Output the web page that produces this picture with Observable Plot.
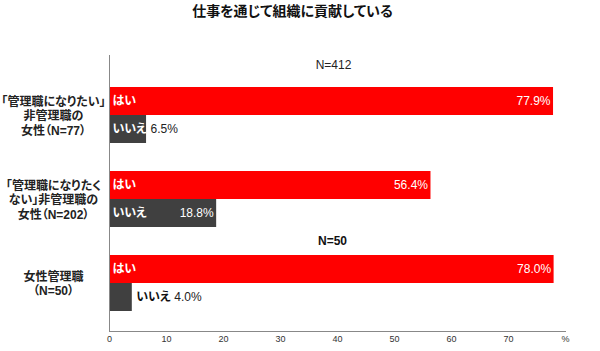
<!DOCTYPE html>
<html><head><meta charset="utf-8">
<script src="https://cdn.jsdelivr.net/npm/d3@7"></script>
<script src="https://cdn.jsdelivr.net/npm/@observablehq/plot@0.6"></script>
<style>
body{margin:0;background:#fff;}
#title{width:585px;height:30px;line-height:29px;text-align:center;font:bold 14px "Noto Sans CJK JP",sans-serif;color:#111;font-feature-settings:"palt";}
#chart svg{font-feature-settings:"palt";}
#chart g[aria-label="x-axis tick label"] text{font-size:9px;}
</style>
</head><body>
<div id="title">仕事を通じて組織に貢献している</div>
<div id="chart"></div>
<script>
const groups = ["「管理職になりたい」\n非管理職の\n女性（N=77）", "「管理職になりたく\nない」非管理職の\n女性（N=202）", "女性管理職\n（N=50）"];
const answers = ["はい", "いいえ"];
const yesValues = [77.9, 56.4, 78.0];
const noValues = [6.5, 18.8, 4.0];
const headers = ["N=412", "N=50"];
const xTicks = [0, 10, 20, 30, 40, 50, 60, 70, 80];

const key = (g, a) => g + "|" + a;
const rows = [];
groups.forEach((g, i) => {
  rows.push({group: g, answer: answers[0], value: yesValues[i], key: key(g, answers[0])});
  rows.push({group: g, answer: answers[1], value: noValues[i], key: key(g, answers[1])});
});
const yDomain = ["hdr1", key(groups[0], answers[0]), key(groups[0], answers[1]), "gap",
  key(groups[1], answers[0]), key(groups[1], answers[1]), "hdr2",
  key(groups[2], answers[0]), key(groups[2], answers[1])];

const fmt = v => v.toFixed(1) + "%";
const catInside = rows.filter(r => r.answer === "はい" || r.value >= 6);
const catOutside = rows.filter(r => !(r.answer === "はい" || r.value >= 6));
const valInside = rows.filter(r => r.value >= 15);
const valOutsideNear = rows.filter(r => r.value < 15 && r.value >= 6);
const valOutsideFar = rows.filter(r => r.value < 6);

const chart = Plot.plot({
  width: 600,
  height: 321,
  marginLeft: 109,
  marginRight: 35,
  marginTop: 25,
  marginBottom: 20,
  style: {fontFamily: '"Liberation Sans", "Noto Sans CJK JP", sans-serif', fontSize: "12px", color: "#222"},
  x: {domain: [0, 80], label: null},
  y: {type: "band", domain: yDomain, paddingInner: 0, paddingOuter: 0.34, align: 0.15, axis: null, label: null},
  marks: [
    Plot.barX(rows, {x: "value", y: "key", insetTop: 0, insetBottom: 0, fill: d => d.answer === "はい" ? "#ff0000" : "#404040"}),
    Plot.ruleX([0], {stroke: "#888"}),
    Plot.frame({anchor: "bottom", stroke: "#888"}),
    Plot.axisX({ticks: xTicks, tickFormat: d => d === 80 ? "%" : d, tickSize: 0, tickPadding: 4, fill: "#333", label: null}),
    Plot.text(catInside, {x: 0, y: "key", text: "answer", textAnchor: "start", dx: 3, fill: "white", fontWeight: "bold", fontSize: 12}),
    Plot.text(catOutside, {x: "value", y: "key", text: "answer", textAnchor: "start", dx: 4, fill: "#111", fontWeight: "bold", fontSize: 12}),
    Plot.text(valInside, {x: "value", y: "key", text: d => fmt(d.value), textAnchor: "end", dx: -3, fill: "white", fontSize: 12}),
    Plot.text(valOutsideNear, {x: "value", y: "key", text: d => fmt(d.value), textAnchor: "start", dx: 4, fill: "#222", fontSize: 12}),
    Plot.text(valOutsideFar, {x: "value", y: "key", text: d => fmt(d.value), textAnchor: "start", dx: 42, fill: "#222", fontSize: 12}),
    Plot.text(groups, {y: g => key(g, answers[1]), text: d => d, frameAnchor: "left", dx: -56, dy: -14, textAnchor: "middle", lineHeight: 1.2, fontWeight: "bold", fontSize: 12, fill: "#222"}),
    Plot.text([headers[0]], {y: () => "hdr1", text: d => d, frameAnchor: "middle", dx: -4, dy: -8, fontSize: 12, fill: "#222"}),
    Plot.text([headers[1]], {y: () => "hdr2", text: d => d, frameAnchor: "middle", dx: -5, fontWeight: "bold", fontSize: 12, fill: "#111"})
  ]
});
document.getElementById("chart").appendChild(chart);
</script>
</body></html>
